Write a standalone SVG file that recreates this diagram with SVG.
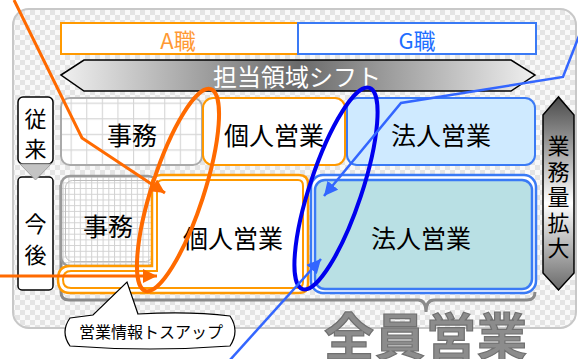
<svg xmlns="http://www.w3.org/2000/svg" width="578" height="359" viewBox="0 0 578 359">
<defs>
<pattern id="checker" width="10" height="10" patternUnits="userSpaceOnUse">
<rect width="10" height="10" fill="#f9f9f9"/>
<rect width="5" height="5" fill="#e4e4e4"/>
<rect x="5" y="5" width="5" height="5" fill="#e4e4e4"/>
</pattern>
<pattern id="gridL" x="55" y="87" width="15.6" height="15.6" patternUnits="userSpaceOnUse">
<rect width="15.6" height="15.6" fill="#ffffff"/>
<path d="M0,0.5 H15.6 M0.5,0 V15.6" stroke="#d6d6d6" stroke-width="1.2" fill="none"/>
</pattern>
<pattern id="gridS" width="5.7" height="5.7" patternUnits="userSpaceOnUse">
<rect width="5.7" height="5.7" fill="#ffffff"/>
<path d="M0,0.5 H5.7 M0.5,0 V5.7" stroke="#d2d2d2" stroke-width="1" fill="none"/>
</pattern>
<linearGradient id="shiftGrad" x1="61" y1="0" x2="536" y2="0" gradientUnits="userSpaceOnUse">
<stop offset="0" stop-color="#f0f0f0"/>
<stop offset="0.5" stop-color="#6a6a6a"/>
<stop offset="1" stop-color="#f0f0f0"/>
</linearGradient>
<linearGradient id="upGrad" x1="0" y1="97" x2="0" y2="290" gradientUnits="userSpaceOnUse">
<stop offset="0" stop-color="#4a4a4a"/>
<stop offset="0.55" stop-color="#ffffff"/>
<stop offset="1" stop-color="#6a6a6a"/>
</linearGradient>
<marker id="arrO" markerUnits="userSpaceOnUse" markerWidth="16" markerHeight="14" refX="14" refY="7" orient="auto">
<path d="M0,0 L14,7 L0,14 Z" fill="#ff6a00"/>
</marker>
<marker id="arrB" markerUnits="userSpaceOnUse" markerWidth="16" markerHeight="14" refX="14" refY="7" orient="auto">
<path d="M0,0 L14,7 L0,14 Z" fill="#3366ff"/>
</marker>
<style>
text { font-family: "Noto Sans CJK JP", "Noto Sans", sans-serif; text-anchor: middle; dominant-baseline: central; }
.lbl { font-size: 25px; fill: #000; }
.vt { font-size: 22px; fill: #000; }
</style>
</defs>

<g id="container">
<rect x="13" y="9" width="563" height="319" rx="16" fill="url(#checker)" stroke="#c8c8c8" stroke-width="2"/>
</g>

<g id="a-job">
<rect x="61" y="23" width="237" height="31" fill="#fff" stroke="#ff9900" stroke-width="2"/>
<text x="178" y="39" style="font-size:22px;fill:#ff9933">A職</text>
</g>
<g id="g-job">
<rect x="298" y="23" width="238" height="31" fill="#fff" stroke="#3a7af5" stroke-width="2"/>
<text x="417" y="39" style="font-size:22px;fill:#1e6eff">G職</text>
</g>

<g id="shift">
<polygon points="61,75 84,60 511,60 535,75 511,91 84,91" fill="url(#shiftGrad)" stroke="#000" stroke-width="1.5"/>
<text x="297" y="75" style="font-size:24px;fill:#fff">担当領域シフト</text>
</g>

<g id="old-jimu">
<rect x="61" y="98" width="141" height="67" rx="9" fill="url(#gridL)" stroke="#aaaaaa" stroke-width="2"/>
<text class="lbl" x="132" y="134">事務</text>
</g>
<g id="old-kojin">
<rect x="203" y="98" width="142" height="67" rx="10" fill="#fff" stroke="#ff9900" stroke-width="2"/>
<text class="lbl" x="274" y="134">個人営業</text>
</g>
<g id="old-hojin">
<rect x="347" y="98" width="188" height="67" rx="10" fill="#cfeaff" stroke="#3a7af5" stroke-width="2"/>
<text class="lbl" x="441" y="134">法人営業</text>
</g>

<g id="label-old">
<rect x="18" y="97" width="35" height="67" rx="5" fill="#fff" stroke="#000" stroke-width="1.5"/>
<text class="vt" x="35.5" y="117">従</text>
<text class="vt" x="35.5" y="147">来</text>
</g>
<g id="label-new">
<rect x="18" y="177" width="35" height="113" rx="4" fill="#fff" stroke="#000" stroke-width="1.5"/>
<text class="vt" x="35.5" y="222">今</text>
<text class="vt" x="35.5" y="253">後</text>
<polygon points="20,164 51,164 35.5,180" fill="#c4c4c4" stroke="#a0a0a0" stroke-width="1"/>
</g>

<g id="brace">
<path d="M61,185 L61,292 Q61,300 69,300 L418,300 Q426,300 426,312 Q426,300 434,300 L527,300 Q535,300 535,292" fill="none" stroke="#8a8a8a" stroke-width="3"/>
</g>

<g id="new-jimu">
<rect x="61" y="176" width="96" height="90" rx="9" fill="url(#gridS)" stroke="#9a9a9a" stroke-width="2.5"/>
<rect x="65.5" y="180.5" width="87" height="81" rx="7" fill="none" stroke="#bdbdbd" stroke-width="1"/>
<text class="lbl" x="108" y="225">事務</text>
</g>

<g id="new-kojin">
<path d="M152,184 Q152,175 161,175 L299,175 Q308,175 308,184 L308,284 Q308,293 299,293 L70,293 Q58,293 58,279.5 Q58,266 70,266 L152,266 Z" fill="#fff" stroke="#ff9900" stroke-width="2.5"/>
<path d="M157,186 Q157,180 163,180 L298,180 Q303,180 303,186 L303,282 Q303,288 297,288 L71,288 Q63,288 63,279.5 Q63,271 71,271 L157,271 Z" fill="none" stroke="#ff9900" stroke-width="2"/>
<text class="lbl" x="233" y="237">個人営業</text>
</g>

<g id="new-hojin">
<rect x="311" y="175" width="225" height="118" rx="12" fill="#fff" stroke="#3a7af5" stroke-width="2.5"/>
<rect x="315" y="180" width="217" height="109" rx="10" fill="#b9e0e4" stroke="#3a7af5" stroke-width="2.5"/>
<text class="lbl" x="421" y="237">法人営業</text>
</g>

<g id="volume">
<polygon points="543,115 558.5,97 574,115 574,273 558.5,290 543,273" fill="url(#upGrad)" stroke="#000" stroke-width="1.5"/>
<text class="vt" x="558.5" y="144">業</text>
<text class="vt" x="558.5" y="169.5">務</text>
<text class="vt" x="558.5" y="195">量</text>
<text class="vt" x="558.5" y="220.5">拡</text>
<text class="vt" x="558.5" y="246">大</text>
</g>

<g id="all-sales">
<text x="426" y="333" style="font-size:50px;font-weight:bold;fill:#8c8c8c;stroke:#707070;stroke-width:1.2;letter-spacing:1px">全員営業</text>
</g>

<g id="connectors">
<ellipse cx="178" cy="190" rx="26" ry="106" transform="rotate(18 178 190)" fill="none" stroke="#ff6a00" stroke-width="4"/>
<ellipse cx="336" cy="188.5" rx="26" ry="106" transform="rotate(18.4 336 188.5)" fill="none" stroke="#0000ee" stroke-width="4"/>
<polyline points="14,0 82,138 165,193" fill="none" stroke="#ff6a00" stroke-width="3" marker-end="url(#arrO)"/>
<line x1="0" y1="276" x2="157" y2="276" stroke="#ff6a00" stroke-width="3" marker-end="url(#arrO)"/>
<polyline points="579,36 563,77 401,103 324,196" fill="none" stroke="#3366ff" stroke-width="2.5" marker-end="url(#arrB)"/>
<line x1="230" y1="360" x2="321" y2="259" stroke="#3366ff" stroke-width="2.5" marker-end="url(#arrB)"/>
</g>

<g id="callout">
<path d="M70,318 L93,315 L127,282 L138,314 Q190,311 230,316 Q240,331 230,346 Q150,352 70,346 Q60,332 70,318 Z" fill="#fff" stroke="#000" stroke-width="1.2"/>
<text x="151" y="331" style="font-size:16px;fill:#000">営業情報トスアップ</text>
</g>
</svg>
